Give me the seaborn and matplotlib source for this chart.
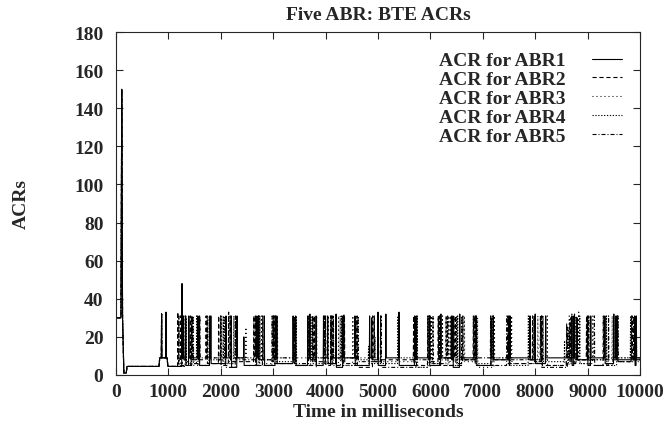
import matplotlib
matplotlib.use("Agg")
import matplotlib.pyplot as plt
import seaborn as sns
import pandas as pd

# ---------------- data ----------------
series_names = ["ACR for ABR1", "ACR for ABR2", "ACR for ABR3", "ACR for ABR4", "ACR for ABR5"]
x_ticks = [0, 1000, 2000, 3000, 4000, 5000, 6000, 7000, 8000, 9000, 10000]
y_ticks = [0, 20, 40, 60, 80, 100, 120, 140, 160, 180]

# start-up phase shared by all five ABRs (ms, ACR)
early_t = [0, 95, 110, 125, 150, 195, 210, 820, 835, 865, 870, 875, 950, 955, 960, 975, 990, 1150]
early_v = [30, 30, 150, 30, 1, 1, 4.5, 4.5, 9, 9, 32, 9, 9, 33, 9, 9, 4.5, 4.5]

abr1_spike_t = [1260, 1290, 1330, 1390, 1560, 1590, 1790, 1810, 2100, 2200,
                2310, 2440, 2690, 2720, 2830, 3040, 3070, 3380, 3430, 3660,
                3700, 3820, 3960, 4040, 4200, 4330, 4560, 4840, 4880, 5000,
                5150, 5400, 5700, 5730, 5980, 6200, 6400, 6430, 6560, 6880,
                7160, 7200, 7500, 7520, 7900, 8000, 8200, 8700, 8740, 8800,
                9000, 9060, 9330, 9500, 9540, 9900, 9930]
abr1_spike_v = [48, 31, 31, 31, 31, 31, 31, 31, 31, 31,
                31, 20, 31, 31, 31, 31, 31, 31, 31, 31,
                32, 31, 31, 31, 32, 31, 31, 31, 30, 33,
                32, 33, 31, 31, 31, 32, 31, 31, 32, 31,
                30, 31, 31, 31, 31, 32, 31, 31, 31, 30,
                31, 31, 31, 32, 31, 31, 31]
abr1_base = [9, 8, 5, 9, 8, 5, 9, 6, 9, 4,
             9, 5, 9, 8, 5, 9, 6, 8, 5, 9,
             8, 5, 9, 6, 4, 9, 5, 9, 8, 5,
             9, 5, 8, 9, 5, 9, 8, 4, 9, 5,
             9, 8, 5, 9, 8, 6, 9, 5, 9, 8,
             5, 9, 6, 9, 8, 5, 9]

abr2_spike_t = [1180, 1230, 1270, 1420, 1440, 1720, 1740, 1960, 2000, 2150,
                2180, 2630, 2660, 2800, 3000, 3020, 3400, 3420, 3760, 3790,
                4000, 4100, 4140, 4360, 4600, 4900, 4930, 5050, 5680, 5950,
                5990, 6150, 6170, 6450, 6480, 6620, 6820, 6850, 7200, 7480,
                7950, 7980, 8100, 8130, 8600, 8680, 8750, 8980, 9020, 9300,
                9550, 9570, 9850]
abr2_spike_v = [33, 31, 31, 31, 31, 31, 31, 31, 31, 33,
                31, 31, 31, 31, 31, 31, 31, 30, 31, 31,
                31, 31, 31, 31, 31, 31, 31, 31, 31, 31,
                31, 31, 31, 31, 31, 31, 31, 31, 31, 31,
                31, 31, 31, 31, 27, 30, 32, 31, 31, 31,
                31, 31, 31]
abr2_base = [8, 6, 9, 5, 8, 9, 6, 8, 5, 9,
             7, 9, 5, 8, 9, 6, 8, 5, 9, 7,
             5, 8, 9, 6, 4, 9, 7, 8, 5, 9,
             7, 8, 5, 9, 6, 8, 9, 5, 8, 6,
             9, 7, 8, 5, 9, 6, 8, 9, 5, 8,
             9, 7, 9]

abr3_spike_t = [1320, 1480, 1750, 2000, 2020, 2200, 2480, 2750, 2780, 3080,
                3800, 3830, 4050, 4250, 4280, 4520, 4950, 5720, 6000, 6020,
                6230, 6350, 6380, 6650, 6900, 7220, 7550, 8050, 8230, 8650,
                8690, 8830, 9100, 9470, 9500, 9930]
abr3_spike_v = [31, 14, 30, 31, 31, 31, 25, 31, 31, 31,
                31, 31, 31, 31, 31, 31, 20, 31, 31, 31,
                31, 31, 31, 31, 30, 31, 31, 31, 31, 31,
                29, 33, 31, 31, 31, 31]
abr3_base = [7, 5, 9, 4, 7, 9, 5, 8, 6, 9,
             4, 9, 6, 8, 5, 9, 7, 4, 8, 6,
             9, 5, 8, 7, 4, 9, 6, 8, 5, 9,
             7, 6, 8, 5, 9, 7]

abr4_spike_t = [1340, 1540, 1560, 1780, 2050, 2250, 2720, 2740, 3050, 3440,
                3720, 3750, 4150, 4300, 4320, 4580, 4820, 5380, 5750, 5960,
                5990, 6180, 6500, 6520, 6850, 7180, 7520, 7870, 8150, 8560,
                8640, 8700, 8850, 9050, 9360, 9560, 9820, 9840]
abr4_spike_v = [30, 31, 31, 31, 31, 31, 31, 31, 31, 31,
                31, 31, 31, 31, 31, 30, 15, 31, 31, 31,
                31, 31, 31, 31, 31, 31, 30, 31, 31, 18,
                24, 32, 31, 31, 31, 31, 31, 31]
abr4_base = [6, 9, 5, 8, 6, 9, 6, 8, 7, 5,
             8, 6, 9, 7, 5, 8, 6, 9, 4, 8,
             6, 9, 5, 8, 6, 9, 5, 8, 7, 6,
             8, 9, 6, 8, 5, 9, 7, 8]

abr5_spike_t = [1200, 1450, 1470, 1600, 2080, 2280, 2660, 2980, 3010, 3400,
                3680, 3980, 4100, 4120, 4350, 4620, 5060, 5740, 6050, 6300,
                6330, 6600, 6860, 7150, 7460, 7990, 8120, 8620, 8660, 8780,
                9130, 9400, 9580, 9880]
abr5_spike_v = [31, 31, 31, 31, 31, 31, 31, 31, 31, 31,
                31, 31, 31, 31, 32, 31, 31, 31, 31, 31,
                31, 31, 31, 31, 31, 31, 31, 25, 28, 31,
                31, 31, 31, 31]
abr5_base = [5, 8, 6, 9, 4, 8, 5, 7, 9, 6,
             9, 6, 8, 5, 9, 7, 4, 8, 6, 9,
             5, 8, 9, 5, 8, 7, 4, 9, 6, 8,
             5, 9, 7, 8]

spikes = [
    (abr1_spike_t, abr1_spike_v, abr1_base),
    (abr2_spike_t, abr2_spike_v, abr2_base),
    (abr3_spike_t, abr3_spike_v, abr3_base),
    (abr4_spike_t, abr4_spike_v, abr4_base),
    (abr5_spike_t, abr5_spike_v, abr5_base),
]


def build(name, st, sv, sb):
    assert len(st) == len(sv) == len(sb), name
    t = list(early_t)
    v = list(early_v)
    prev = early_v[-1]
    for ti, hi, bi in zip(st, sv, sb):
        t += [ti - 6, ti, ti + 6]
        v += [prev, hi, bi]
        prev = bi
    t.append(10000)
    v.append(prev)
    return pd.DataFrame({"t": t, "v": v, "series": name})


df = pd.concat([build(n, *s) for n, s in zip(series_names, spikes)], ignore_index=True)

# ---------------- style ----------------
sns.set_style("ticks")
plt.rcParams["font.family"] = ["Liberation Serif", "DejaVu Serif"]
plt.rcParams["font.weight"] = "bold"

FS = 14
LW = 0.8
fig = plt.figure(figsize=(6.66, 4.27), dpi=100)
ax = fig.add_axes([116 / 666, 1 - 376 / 427, (640 - 116) / 666, (376 - 33) / 427])

dashes = {
    series_names[0]: "",
    series_names[1]: (3.75, 2.5),
    series_names[2]: (0.9, 2.7),
    series_names[3]: (1.1, 1.5),
    series_names[4]: (3.6, 1.8, 0.9, 1.8),
}
sns.lineplot(data=df, x="t", y="v", style="series", style_order=series_names, dashes=dashes,
             color="black", linewidth=LW, estimator=None, sort=False, legend=False, ax=ax)

ax.set_xlim(0, 10000)
ax.set_ylim(0, 180)
ax.set_xticks(x_ticks)
ax.set_yticks(y_ticks)
ax.set_xticklabels([str(x) for x in x_ticks], fontsize=FS, fontweight="bold")
ax.set_yticklabels([str(y) for y in y_ticks], fontsize=FS, fontweight="bold")
ax.tick_params(direction="in", length=5, width=0.8, top=True, right=True)
ax.tick_params(axis="y", pad=9)
ax.tick_params(axis="x", pad=6)
for s in ax.spines.values():
    s.set_linewidth(0.8)
    s.set_visible(True)

ax.set_xlabel("Time in milliseconds", fontsize=FS, fontweight="bold", labelpad=2)
ax.set_ylabel("ACRs", fontsize=FS, fontweight="bold", labelpad=32)
ax.set_title("Five ABR: BTE ACRs", fontsize=FS, fontweight="bold", pad=9)

leg = ax.legend(ax.lines[:5], series_names, loc="upper right", bbox_to_anchor=(0.981, 0.965),
                frameon=False, markerfirst=False, fontsize=FS, handlelength=1.57,
                handletextpad=1.35, labelspacing=0.06, borderaxespad=0)
for txt in leg.get_texts():
    txt.set_fontweight("bold")

fig.savefig("out.png", dpi=100)
